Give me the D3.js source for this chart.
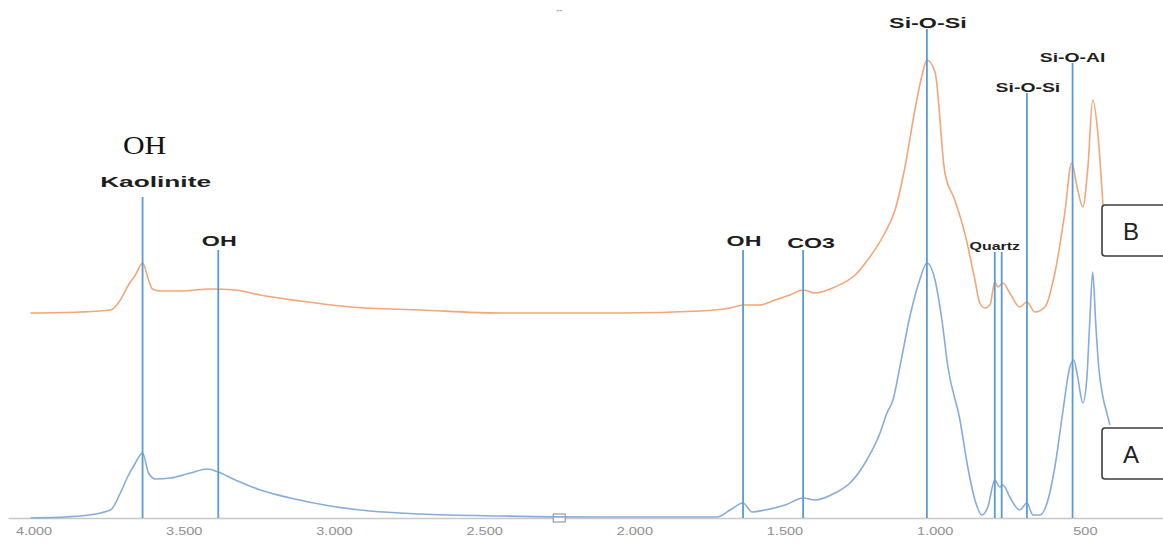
<!DOCTYPE html>
<html>
<head>
<meta charset="utf-8">
<script src="https://cdn.jsdelivr.net/npm/d3@7"></script>
<style>
  body { margin: 0; background: #fff; }
  svg { display: block; font-family: "Liberation Sans", Arial, sans-serif; }
</style>
</head>
<body>
<div id="chart"></div>
<script>
const width = 1163,
  height = 553;

// FTIR spectra, wavenumber (cm-1) and absorbance (arbitrary units)
const wnB = [4010, 3844, 3744, 3711, 3684, 3661, 3637, 3617, 3604, 3578, 3511, 3411, 3328, 3245, 3112, 2945, 2713, 2446, 2047, 1781, 1681, 1638, 1581, 1532, 1482, 1438, 1399, 1332, 1265, 1216, 1166, 1132, 1099, 1066, 1042, 1026, 999, 966, 933, 900, 866, 850, 833, 816, 800, 790, 773, 750, 717, 693, 667, 633, 600, 567, 544, 526, 507, 490, 474, 457, 440];
const absB = [0.410, 0.412, 0.416, 0.436, 0.466, 0.486, 0.510, 0.476, 0.458, 0.454, 0.454, 0.458, 0.456, 0.446, 0.434, 0.422, 0.416, 0.410, 0.410, 0.414, 0.420, 0.426, 0.426, 0.436, 0.446, 0.456, 0.450, 0.462, 0.486, 0.522, 0.570, 0.616, 0.702, 0.816, 0.886, 0.916, 0.892, 0.690, 0.636, 0.570, 0.476, 0.430, 0.420, 0.426, 0.472, 0.462, 0.470, 0.450, 0.422, 0.432, 0.412, 0.422, 0.490, 0.610, 0.710, 0.662, 0.622, 0.702, 0.836, 0.770, 0.626];

const wnA = [4010, 3844, 3744, 3711, 3687, 3661, 3637, 3617, 3594, 3544, 3478, 3421, 3385, 3328, 3245, 3145, 3012, 2879, 2713, 2446, 2114, 1725, 1681, 1638, 1608, 1565, 1498, 1438, 1399, 1332, 1282, 1232, 1182, 1159, 1139, 1116, 1083, 1050, 1026, 999, 976, 956, 916, 890, 866, 843, 823, 800, 783, 773, 750, 717, 693, 673, 650, 623, 600, 574, 550, 537, 524, 507, 494, 484, 474, 464, 454, 440, 427, 417];
const absA = [0.000, 0.004, 0.016, 0.050, 0.082, 0.110, 0.130, 0.090, 0.078, 0.080, 0.090, 0.098, 0.092, 0.076, 0.056, 0.040, 0.024, 0.014, 0.008, 0.004, 0.002, 0.002, 0.016, 0.030, 0.012, 0.016, 0.026, 0.040, 0.036, 0.050, 0.070, 0.110, 0.170, 0.210, 0.236, 0.302, 0.402, 0.476, 0.510, 0.476, 0.396, 0.302, 0.196, 0.102, 0.036, 0.006, 0.022, 0.076, 0.062, 0.066, 0.042, 0.016, 0.030, 0.006, 0.006, 0.036, 0.102, 0.210, 0.302, 0.316, 0.282, 0.230, 0.276, 0.390, 0.492, 0.390, 0.302, 0.242, 0.210, 0.186];

// band assignments: name, wavenumber, top of the marker line (absorbance units)
const bandNames = ["Kaolinite", "OH", "OH", "CO3", "Si-O-Si", "Quartz", "", "Si-O-Si", "Si-O-Al"];
const bandWn = [3637, 3385, 1638, 1438, 1026, 800, 777, 693, 541];
const bandTop = [0.642, 0.536, 0.536, 0.536, 0.978, 0.532, 0.532, 0.850, 0.910];

const tickValues = [4000, 3500, 3000, 2500, 2000, 1500, 1000, 500];
const sampleNames = ["B", "A"];

const x = d3.scaleLinear().domain([4085, 240]).range([8, 1163]);
const y = d3.scaleLinear().domain([0, 1]).range([518, 18]);

const fmt = d3.formatLocale({ thousands: ".", grouping: [3], decimal: ",", currency: ["", ""] }).format(",d");

const svg = d3
  .select("#chart")
  .append("svg")
  .attr("width", width)
  .attr("height", height)
  .attr("viewBox", [0, 0, width, height]);

// stretch text horizontally, the source picture is wider than its fonts
function stretch(sel, k) {
  sel.each(function () {
    const w = this.getComputedTextLength();
    d3.select(this).attr("textLength", w * k).attr("lengthAdjust", "spacingAndGlyphs");
  });
}

// tiny chart title
svg
  .append("text")
  .attr("x", x(2250))
  .attr("y", 13)
  .attr("text-anchor", "middle")
  .attr("font-size", 10)
  .attr("font-weight", "bold")
  .attr("fill", "#b0b0b0")
  .text("--");

// axis
const axis = svg
  .append("g")
  .attr("transform", `translate(0,${y(0)})`)
  .call(d3.axisBottom(x).tickValues(tickValues).tickSize(0).tickPadding(10).tickFormat(fmt));
axis.select(".domain").attr("stroke", "#c8c8c8").attr("stroke-width", 1.5);
axis
  .selectAll("text")
  .attr("font-family", "Liberation Sans, Arial, sans-serif")
  .attr("font-size", 10)
  .attr("fill", "#8f8f8f")
  .call(stretch, 1.45);

// slider handle on the axis
svg
  .append("rect")
  .attr("x", x(2250) - 6)
  .attr("y", y(0) - 4)
  .attr("width", 12)
  .attr("height", 8)
  .attr("fill", "#fff")
  .attr("stroke", "#888")
  .attr("stroke-width", 1);

const line = d3
  .line()
  .x((d) => x(d[0]))
  .y((d) => y(d[1]))
  .curve(d3.curveMonotoneX);

const seriesB = d3.zip(wnB, absB);
const seriesA = d3.zip(wnA, absA);

svg
  .append("path")
  .datum(seriesB)
  .attr("fill", "none")
  .attr("stroke", "#f2a679")
  .attr("stroke-width", 1.6)
  .attr("d", line);

svg
  .append("path")
  .datum(seriesA)
  .attr("fill", "none")
  .attr("stroke", "#86acdc")
  .attr("stroke-width", 1.6)
  .attr("d", line);

// band marker lines
const bands = bandNames.map((name, i) => ({ name, wn: bandWn[i], top: bandTop[i] }));

svg
  .append("g")
  .selectAll("line")
  .data(bands)
  .join("line")
  .attr("x1", (d) => x(d.wn))
  .attr("x2", (d) => x(d.wn))
  .attr("y1", (d) => y(d.top))
  .attr("y2", y(0))
  .attr("stroke", "#5b9bd5")
  .attr("stroke-width", 1.8);

// label tweaks: font size, stretch and small shifts
const labelStyle = {
  Kaolinite: { size: 15, k: 1.75, dx: 13, dy: -10 },
  OH: { size: 15, k: 1.55, dx: 1, dy: -4 },
  CO3: { size: 15, k: 1.55, dx: 8, dy: -2 },
  "Si-O-Si": { size: 15, k: 1.55, dx: 1, dy: -1 },
  Quartz: { size: 11, k: 1.45, dx: 0, dy: -2 },
  "Si-O-Al": { size: 12.5, k: 1.55, dx: 0, dy: -1 },
};

svg
  .append("g")
  .selectAll("text")
  .data(bands.filter((d) => d.name))
  .join("text")
  .attr("x", (d) => x(d.wn) + labelStyle[d.name].dx)
  .attr("y", (d) => y(d.top) + labelStyle[d.name].dy)
  .attr("text-anchor", "middle")
  .attr("font-weight", "bold")
  .attr("font-size", (d) => (d.name === "Si-O-Si" && d.wn < 900 ? 12.5 : labelStyle[d.name].size))
  .attr("fill", "#1e1e1e")
  .text((d) => d.name)
  .each(function (d) {
    d3.select(this).call(stretch, labelStyle[d.name].k);
  });

// serif OH above kaolinite
svg
  .append("text")
  .attr("x", x(bandWn[0]) + 2)
  .attr("y", y(bandTop[0]) - 43)
  .attr("text-anchor", "middle")
  .attr("font-family", "Liberation Serif, Times New Roman, serif")
  .attr("font-size", 26)
  .attr("fill", "#111")
  .text("OH")
  .call(stretch, 1.15);

// sample boxes
const boxTop = [0.626, 0.18];
const boxes = svg
  .append("g")
  .selectAll("g")
  .data(sampleNames)
  .join("g")
  .attr("transform", (d, i) => `translate(1102,${y(boxTop[i])})`);

boxes
  .append("rect")
  .attr("width", 70)
  .attr("height", 51)
  .attr("rx", 3)
  .attr("fill", "#fff")
  .attr("stroke", "#3c3c3c")
  .attr("stroke-width", 1.6);

boxes
  .append("text")
  .attr("x", 29)
  .attr("y", 35)
  .attr("text-anchor", "middle")
  .attr("font-size", 24)
  .attr("fill", "#222")
  .text((d) => d);
</script>
</body>
</html>
